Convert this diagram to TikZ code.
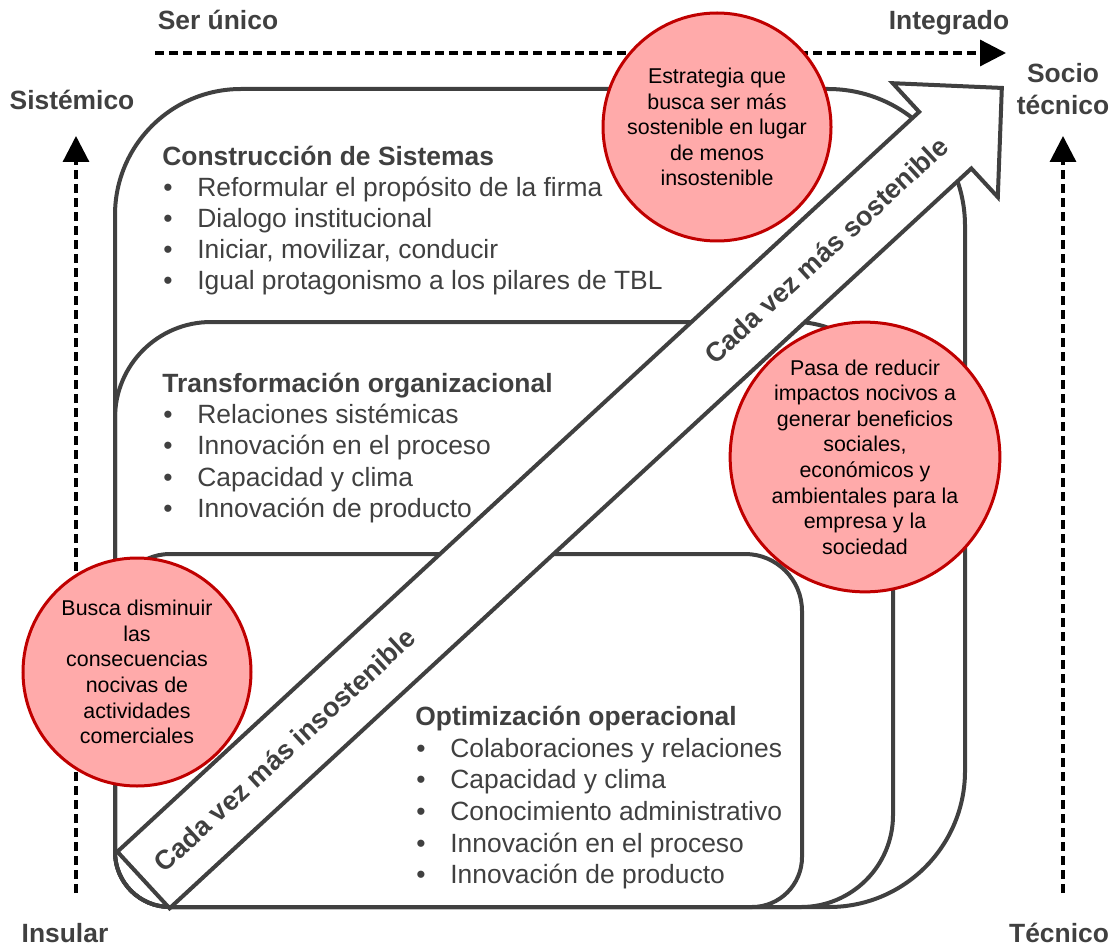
\documentclass[tikz,border=0pt]{standalone}
\usepackage{fontspec}
\setmainfont{Liberation Sans}
\usepackage{tikz}
\usetikzlibrary{arrows.meta,positioning,calc}
\usepackage{xcolor}
\definecolor{linegray}{RGB}{64,64,64}
\definecolor{notefill}{RGB}{255,170,170}
\definecolor{noteline}{RGB}{192,0,0}
\newcommand{\itembul}{\makebox[17pt][l]{\textbullet}}

\begin{document}
\begin{tikzpicture}[x=0.5pt,y=-0.5pt,
    axislabel/.style={font=\fontsize{13.2pt}{15pt}\selectfont\bfseries,text=linegray,inner sep=0pt,anchor=base},
    axisarrow/.style={line width=1.6pt,dash pattern=on 4.5pt off 2.5pt,-{Triangle[length=13pt,width=13pt]}},
    frame/.style={line width=2pt,draw=linegray},
    boxtitle/.style={font=\fontsize{13.2pt}{15pt}\selectfont\bfseries,text=linegray,anchor=base west,inner sep=0pt},
    boxitem/.style={font=\fontsize{13.2pt}{15pt}\selectfont,text=linegray,anchor=base west,inner sep=0pt},
    note/.style={circle,draw=noteline,fill=notefill,line width=1.5pt,inner sep=0pt,align=center,font=\fontsize{10.7pt}{12.8pt}\selectfont},
    arrowtext/.style={font=\fontsize{13.5pt}{15pt}\selectfont\bfseries,text=linegray,rotate=42.7}]
    \useasboundingbox (0,0) rectangle (1111,946);

    % Axes
    \coordinate (top-start) at (155,53);
    \coordinate (top-end) at (1006,53);
    \coordinate (left-start) at (76,893);
    \coordinate (left-end) at (76,136);
    \coordinate (right-start) at (1063,893);
    \coordinate (right-end) at (1063,136);
    \draw[axisarrow] (top-start) -- (top-end);
    \draw[axisarrow] (left-start) -- (left-end);
    \draw[axisarrow] (right-start) -- (right-end);
    \node[axislabel] (serunico) at (218,30) {Ser único};
    \node[axislabel] (integrado) at (949,30) {Integrado};
    \node[axislabel] (sistemico) at (72,110) {Sistémico};
    \node[axislabel] (insular) at (65,942) {Insular};
    \node[axislabel] (socio) at (1063,83) {Socio};
    \node[axislabel] (sociotec) at (1063,115) {técnico};
    \node[axislabel] (tecnico) at (1059,942) {Técnico};

    % Construccion de Sistemas
    \draw[frame] (115,852) -- (115,215) arc[start angle=180,end angle=270,radius=126]
        -- (828,89) arc[start angle=270,end angle=360,radius=137]
        -- (965,771) arc[start angle=0,end angle=90,radius=136]
        -- (170,907) arc[start angle=90,end angle=180,radius=55] -- cycle;
    % Transformacion organizacional
    \draw[frame] (115,852) -- (115,418) arc[start angle=180,end angle=270,radius=96]
        -- (795,322) arc[start angle=270,end angle=360,radius=98]
        -- (893,815) arc[start angle=0,end angle=90,radius=92]
        -- (170,907) arc[start angle=90,end angle=180,radius=55] -- cycle;
    % Optimizacion operacional
    \draw[frame] (115,852) -- (115,609) arc[start angle=180,end angle=270,radius=55]
        -- (745,554) arc[start angle=270,end angle=360,radius=57]
        -- (802,857) arc[start angle=0,end angle=90,radius=50]
        -- (170,907) arc[start angle=90,end angle=180,radius=55] -- cycle;

    % Big arrow
    \begin{scope}[shift={(143.5,880)},rotate=42.7]
        \draw[frame,fill=white,line join=miter] (0,-38.5) -- (1091,-38.5) -- (1091,-77.5)
            -- (1168,0) -- (1091,77.5) -- (1091,38.5) -- (0,38.5) -- cycle;
        \node[arrowtext] (insost) at (192,0) {Cada vez más insostenible};
        \node[arrowtext] (sost) at (929,0) {Cada vez más sostenible};
    \end{scope}

    % Box texts
    \node[boxtitle] (cs) at (162,166) {Construcción de Sistemas};
    \foreach \txt [count=\i] in {Reformular el propósito de la firma, Dialogo institucional,
        {Iniciar, movilizar, conducir}, Igual protagonismo a los pilares de TBL}
        \node[boxitem] (cs-\i) at (163,166+31*\i) {\itembul\txt};
    \node[boxtitle] (to) at (162,392) {Transformación organizacional};
    \foreach \txt [count=\i] in {Relaciones sistémicas, Innovación en el proceso,
        Capacidad y clima, Innovación de producto}
        \node[boxitem] (to-\i) at (163,391.5+31.5*\i) {\itembul\txt};
    \node[boxtitle] (oo) at (415,725) {Optimización operacional};
    \foreach \txt [count=\i] in {Colaboraciones y relaciones, Capacidad y clima,
        Conocimiento administrativo, Innovación en el proceso, Innovación de producto}
        \node[boxitem] (oo-\i) at (416,725.3+31.7*\i) {\itembul\txt};

    % Notes
    \node[note,minimum size=114pt] (note-top) at (717,127)
        {Estrategia que\\busca ser más\\sostenible en lugar\\de menos\\insostenible};
    \node[note,minimum size=132pt] (note-right) at (865,457)
        {Pasa de reducir\\impactos nocivos a\\generar beneficios\\sociales,\\económicos y\\ambientales para la\\empresa y la\\sociedad};
    \node[note,minimum size=114pt] (note-left) at (137,672)
        {Busca disminuir\\las\\consecuencias\\nocivas de\\actividades\\comerciales};
\end{tikzpicture}
\end{document}
